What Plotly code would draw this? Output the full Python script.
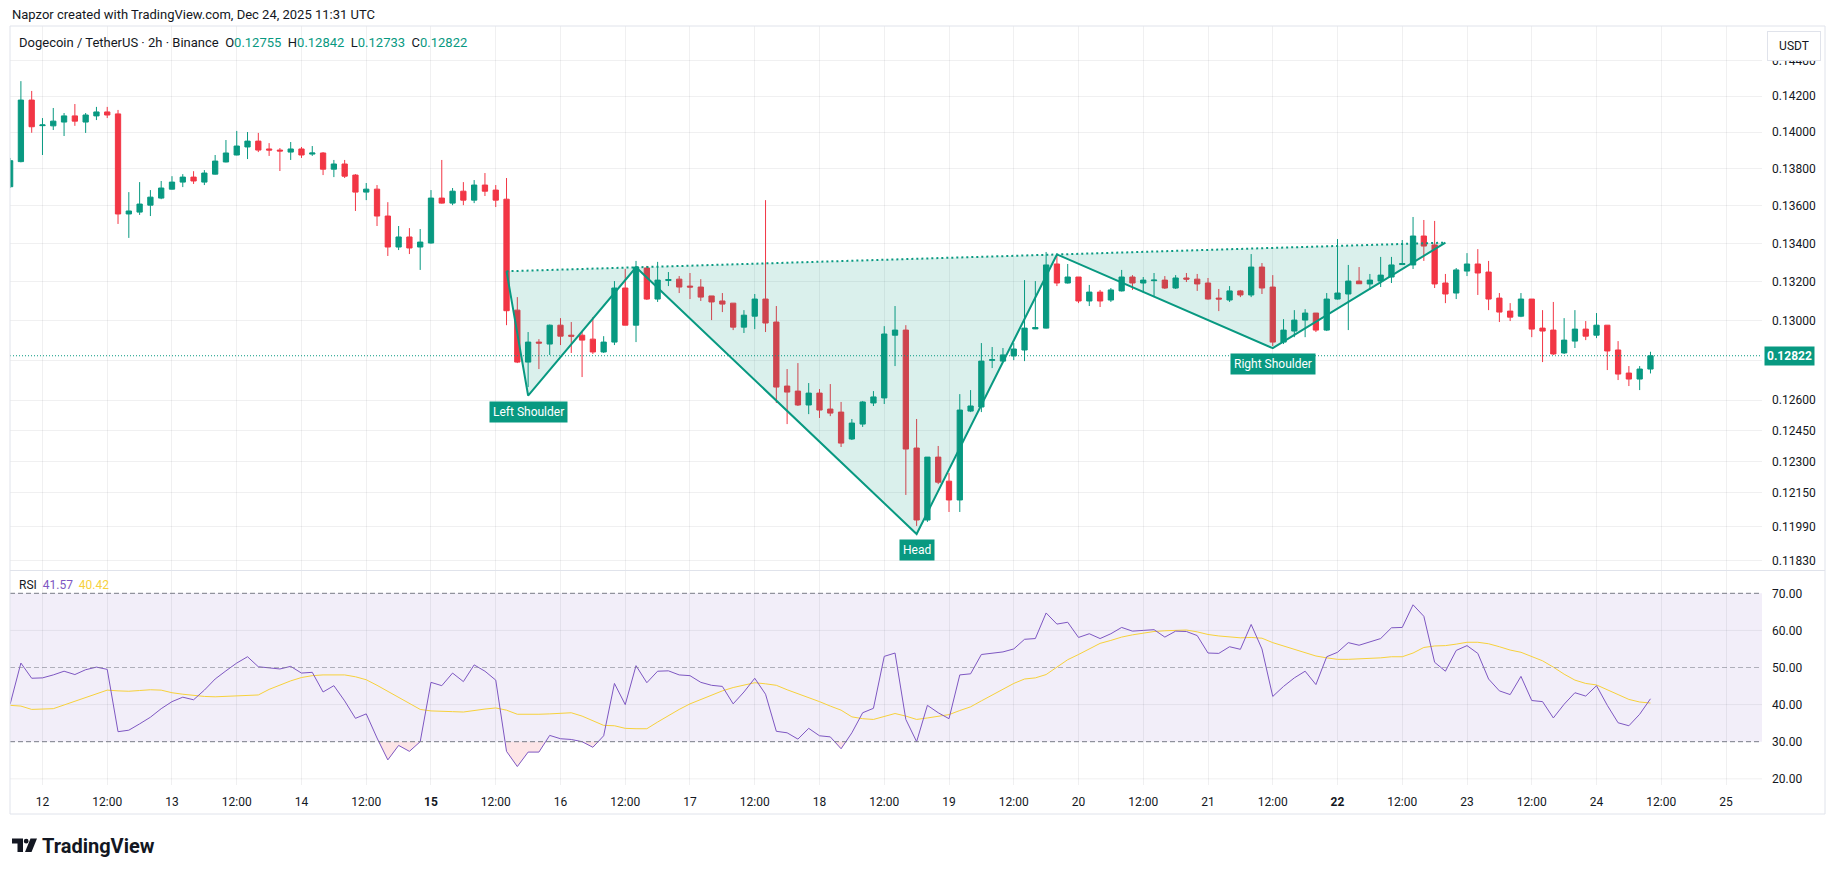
import numpy as np
import pandas as pd
import plotly.graph_objects as go

W, H = 1835, 875

# ---------------- data ----------------
bar_start = "2025-12-11 18:00"   # first 2h bar
opens = [0.13703, 0.13839, 0.14178, 0.14036, 0.14035, 0.14056, 0.14090, 0.14056, 0.14090, 0.14112,
         0.14101, 0.13557, 0.13567, 0.13604, 0.13642, 0.13690, 0.13728, 0.13755, 0.13728, 0.13771,
         0.13837, 0.13875, 0.13919, 0.13951, 0.13908, 0.13902, 0.13891, 0.13908, 0.13880, 0.13886,
         0.13798, 0.13826, 0.13766, 0.13674, 0.13690, 0.13546, 0.13382, 0.13435, 0.13382, 0.13403,
         0.13642, 0.13615, 0.13679, 0.13631, 0.13712, 0.13685, 0.13636, 0.13054, 0.12790, 0.12891,
         0.12881, 0.12977, 0.12926, 0.12926, 0.12906, 0.12841, 0.12891, 0.13168, 0.12977, 0.13272,
         0.13111, 0.13207, 0.13214, 0.13178, 0.13173, 0.13127, 0.13101, 0.13090, 0.12967, 0.13023,
         0.13111, 0.12993, 0.12670, 0.12645, 0.12576, 0.12635, 0.12556, 0.12541, 0.12409, 0.12482,
         0.12586, 0.12611, 0.12926, 0.12952, 0.12365, 0.12020, 0.12321, 0.12205, 0.12115, 0.12546,
         0.12566, 0.12799, 0.12795, 0.12821, 0.12851, 0.12958, 0.12962, 0.13293, 0.13194, 0.13225,
         0.13101, 0.13147, 0.13106, 0.13153, 0.13225, 0.13194, 0.13206, 0.13209, 0.13168, 0.13220,
         0.13214, 0.13194, 0.13116, 0.13106, 0.13153, 0.13132, 0.13277, 0.13173, 0.12891, 0.12947,
         0.13003, 0.13039, 0.12952, 0.13111, 0.13137, 0.13204, 0.13189, 0.13204, 0.13225, 0.13290,
         0.13288, 0.13440, 0.13393, 0.13194, 0.13142, 0.13256, 0.13293, 0.13251, 0.13116, 0.13049,
         0.13023, 0.13111, 0.12962, 0.12952, 0.12836, 0.12896, 0.12957, 0.12926, 0.12977, 0.12851,
         0.12735, 0.12705, 0.12755]
highs = [0.13859, 0.14284, 0.14229, 0.14078, 0.14134, 0.14106, 0.14156, 0.14106, 0.14140, 0.14140,
         0.14123, 0.13674, 0.13728, 0.13685, 0.13734, 0.13760, 0.13771, 0.13787, 0.13793, 0.13875,
         0.13957, 0.14007, 0.14001, 0.13996, 0.13940, 0.13913, 0.13946, 0.13919, 0.13924, 0.13891,
         0.13848, 0.13848, 0.13771, 0.13723, 0.13712, 0.13620, 0.13493, 0.13482, 0.13477, 0.13685,
         0.13848, 0.13696, 0.13728, 0.13739, 0.13777, 0.13712, 0.13750, 0.13121, 0.12942, 0.12906,
         0.12980, 0.13013, 0.12993, 0.12947, 0.13018, 0.12921, 0.13204, 0.13267, 0.13309, 0.13283,
         0.13304, 0.13251, 0.13230, 0.13246, 0.13214, 0.13127, 0.13142, 0.13090, 0.13054, 0.13137,
         0.13631, 0.13075, 0.12755, 0.12785, 0.12685, 0.12655, 0.12680, 0.12591, 0.12507, 0.12596,
         0.12645, 0.12972, 0.13075, 0.12977, 0.12507, 0.12321, 0.12375, 0.12244, 0.12630, 0.12650,
         0.12886, 0.12866, 0.12861, 0.12886, 0.13209, 0.13204, 0.13356, 0.13345, 0.13293, 0.13225,
         0.13184, 0.13158, 0.13168, 0.13262, 0.13235, 0.13225, 0.13246, 0.13230, 0.13235, 0.13246,
         0.13241, 0.13220, 0.13163, 0.13178, 0.13158, 0.13345, 0.13298, 0.13235, 0.13008, 0.13054,
         0.13059, 0.13039, 0.13142, 0.13424, 0.13288, 0.13277, 0.13241, 0.13330, 0.13330, 0.13419,
         0.13541, 0.13525, 0.13520, 0.13241, 0.13272, 0.13350, 0.13371, 0.13309, 0.13142, 0.13090,
         0.13142, 0.13111, 0.13054, 0.13096, 0.13013, 0.13054, 0.12998, 0.13039, 0.12977, 0.12896,
         0.12770, 0.12770, 0.12842]
lows = [0.13696, 0.13835, 0.13997, 0.13875, 0.14012, 0.13979, 0.14035, 0.13996, 0.14067, 0.14078,
        0.13504, 0.13430, 0.13552, 0.13546, 0.13636, 0.13688, 0.13701, 0.13718, 0.13712, 0.13769,
        0.13835, 0.13873, 0.13853, 0.13891, 0.13870, 0.13788, 0.13848, 0.13859, 0.13870, 0.13766,
        0.13755, 0.13750, 0.13573, 0.13631, 0.13493, 0.13335, 0.13366, 0.13345, 0.13262, 0.13400,
        0.13612, 0.13604, 0.13604, 0.13615, 0.13653, 0.13594, 0.12977, 0.12785, 0.12665, 0.12755,
        0.12826, 0.12876, 0.12836, 0.12715, 0.12831, 0.12836, 0.12876, 0.12977, 0.12891, 0.13106,
        0.13096, 0.13178, 0.13142, 0.13111, 0.13101, 0.13003, 0.13044, 0.12952, 0.12937, 0.12957,
        0.12942, 0.12586, 0.12482, 0.12571, 0.12531, 0.12512, 0.12521, 0.12370, 0.12404, 0.12468,
        0.12571, 0.12581, 0.12770, 0.12139, 0.11992, 0.12011, 0.12191, 0.12058, 0.12058, 0.12541,
        0.12541, 0.12760, 0.12793, 0.12800, 0.12795, 0.12957, 0.12960, 0.13178, 0.13191, 0.13090,
        0.13075, 0.13070, 0.13096, 0.13150, 0.13158, 0.13142, 0.13121, 0.13163, 0.13163, 0.13199,
        0.13153, 0.13108, 0.13049, 0.13096, 0.13121, 0.13121, 0.13137, 0.12871, 0.12881, 0.12916,
        0.12916, 0.12942, 0.12947, 0.13108, 0.12952, 0.13189, 0.13158, 0.13173, 0.13194, 0.13288,
        0.13267, 0.13309, 0.13168, 0.13090, 0.13111, 0.13230, 0.13132, 0.13054, 0.12993, 0.12998,
        0.13018, 0.12916, 0.12790, 0.12826, 0.12831, 0.12861, 0.12901, 0.12911, 0.12750, 0.12700,
        0.12670, 0.12650, 0.12733]
closes = [0.13844, 0.14178, 0.14030, 0.14040, 0.14061, 0.14090, 0.14061, 0.14095, 0.14112, 0.14095,
          0.13557, 0.13573, 0.13610, 0.13647, 0.13696, 0.13728, 0.13755, 0.13734, 0.13777, 0.13842,
          0.13886, 0.13924, 0.13951, 0.13902, 0.13902, 0.13897, 0.13908, 0.13875, 0.13886, 0.13798,
          0.13826, 0.13760, 0.13674, 0.13690, 0.13546, 0.13382, 0.13435, 0.13377, 0.13408, 0.13642,
          0.13615, 0.13679, 0.13631, 0.13712, 0.13679, 0.13631, 0.13051, 0.12790, 0.12891, 0.12886,
          0.12977, 0.12921, 0.12921, 0.12901, 0.12841, 0.12891, 0.13168, 0.12977, 0.13277, 0.13111,
          0.13209, 0.13212, 0.13173, 0.13173, 0.13121, 0.13096, 0.13085, 0.12967, 0.13028, 0.13111,
          0.12988, 0.12665, 0.12640, 0.12576, 0.12635, 0.12551, 0.12536, 0.12389, 0.12487, 0.12591,
          0.12616, 0.12932, 0.12952, 0.12360, 0.12020, 0.12321, 0.12200, 0.12115, 0.12551, 0.12571,
          0.12795, 0.12802, 0.12826, 0.12856, 0.12962, 0.12965, 0.13288, 0.13194, 0.13225, 0.13101,
          0.13147, 0.13101, 0.13158, 0.13225, 0.13194, 0.13209, 0.13209, 0.13168, 0.13220, 0.13214,
          0.13189, 0.13111, 0.13111, 0.13153, 0.13132, 0.13277, 0.13168, 0.12891, 0.12952, 0.13003,
          0.13039, 0.12952, 0.13111, 0.13142, 0.13204, 0.13190, 0.13209, 0.13235, 0.13288, 0.13295,
          0.13440, 0.13387, 0.13189, 0.13137, 0.13262, 0.13293, 0.13246, 0.13111, 0.13044, 0.13018,
          0.13111, 0.12957, 0.12947, 0.12831, 0.12901, 0.12957, 0.12921, 0.12977, 0.12846, 0.12730,
          0.12705, 0.12755, 0.12822]

rsi = [40.1, 51.2, 47.1, 47.2, 48.0, 49.0, 48.1, 49.4, 50.1, 49.5,
       32.7, 33.1, 34.8, 36.6, 38.9, 40.8, 42.0, 41.3, 43.9, 46.9,
       49.1, 51.2, 52.9, 50.2, 49.9, 49.6, 50.3, 48.5, 48.7, 43.4,
       45.1, 41.0, 36.3, 37.5, 31.0, 25.1, 29.0, 27.4, 30.0, 46.0,
       45.1, 48.5, 46.2, 50.7, 49.0, 46.6, 27.4, 23.3, 27.2, 27.2,
       31.7, 30.8, 30.6, 30.0, 28.5, 31.6, 45.7, 40.0, 50.5, 45.9,
       49.0, 49.1, 48.0, 47.8, 46.0, 45.2, 44.9, 40.2, 43.4, 47.1,
       42.8, 32.8, 32.4, 30.7, 33.6, 31.6, 31.3, 28.1, 32.4, 37.8,
       39.0, 53.0, 53.9, 36.0, 30.0, 39.8, 37.8, 36.2, 48.0, 48.3,
       53.5, 53.8, 54.2, 55.0, 57.6, 57.8, 64.7, 61.7, 62.2, 58.1,
       59.1, 57.8, 59.1, 60.8, 59.8, 60.0, 60.2, 58.2, 59.8, 59.7,
       58.6, 53.9, 53.8, 55.6, 54.9, 61.6, 55.0, 42.2, 44.9, 47.2,
       49.0, 45.4, 52.9, 54.1, 56.7, 56.0, 56.9, 57.8, 60.7, 60.8,
       66.9, 63.8, 51.4, 49.0, 54.6, 55.9, 53.8, 46.9, 43.7, 42.7,
       47.6, 41.1, 40.8, 36.4, 40.1, 43.2, 42.3, 45.1, 39.8, 35.1,
       34.3, 37.4, 41.57]
rsi_ma = [39.8, 39.6, 38.7, 38.7, 38.9, 39.9, 40.9, 41.8, 42.9, 43.9,
          43.7, 43.6, 43.8, 44.0, 43.9, 43.2, 42.8, 42.4, 42.2, 42.1,
          42.2, 42.3, 42.4, 42.6, 44.1, 45.3, 46.4, 47.3, 47.8, 48.0,
          48.0, 48.0, 47.5, 46.7, 45.2, 43.6, 42.0, 40.3, 38.7, 38.3,
          38.1, 38.1, 38.0, 38.5, 38.8, 39.1, 38.5, 37.4, 37.3, 37.4,
          37.5, 37.6, 37.8, 36.9, 35.7, 34.4, 34.3, 33.6, 33.5, 33.5,
          35.3, 37.1, 38.7, 40.2, 41.4, 42.5, 43.7, 44.6, 45.2, 45.9,
          45.6, 45.2, 44.0, 43.0, 41.9, 40.8, 39.6, 38.5, 36.7, 36.2,
          36.0, 36.7, 37.6, 36.9, 36.0, 36.4, 36.9, 37.3, 38.4, 39.4,
          41.0, 42.6, 44.2, 45.7, 46.9, 47.2, 48.1, 50.0, 52.1, 53.5,
          55.0, 56.5, 57.3, 58.2, 58.8, 59.3, 59.7, 59.9, 60.0, 60.1,
          59.6, 58.9, 58.5, 58.3, 58.0, 58.1, 57.9, 56.7, 55.8, 54.9,
          54.0, 53.1, 52.6, 52.2, 52.2, 52.3, 52.5, 52.6, 52.9, 52.9,
          53.9, 55.4, 55.8, 55.9, 56.3, 56.8, 56.8, 56.4, 55.6, 54.7,
          54.1, 53.0, 51.8, 50.1, 48.2, 46.6, 45.7, 45.3, 44.1, 42.7,
          41.4, 40.7, 40.42]

# head & shoulders drawing points: start, left shoulder, neck 1, head, neck 2, right shoulder, end
hs_times = ["2025-12-15 14:00", "2025-12-15 18:00", "2025-12-16 14:00", "2025-12-18 18:00",
            "2025-12-19 20:00", "2025-12-21 12:00", "2025-12-22 20:00"]
hs_prices = [0.13255, 0.12623, 0.13276, 0.11954, 0.13343, 0.12860, 0.13405]
hs_labels = {1: "Left Shoulder", 3: "Head", 5: "Right Shoulder"}

last_price = 0.12822
price_ticks = [0.11830, 0.11990, 0.12150, 0.12300, 0.12450, 0.12600, 0.12800,
               0.13000, 0.13200, 0.13400, 0.13600, 0.13800, 0.14000, 0.14200, 0.14400]
price_ticktext = ["0.11830", "0.11990", "0.12150", "0.12300", "0.12450", "0.12600", "",
                  "0.13000", "0.13200", "0.13400", "0.13600", "0.13800", "0.14000", "0.14200", "0.14400"]
rsi_ticks = [20, 30, 40, 50, 60, 70]
rsi_ticktext = ["20.00", "30.00", "40.00", "50.00", "60.00", "70.00"]
time_ticktext = ["12", "12:00", "13", "12:00", "14", "12:00", "<b>15</b>", "12:00", "16", "12:00",
                 "17", "12:00", "18", "12:00", "19", "12:00", "20", "12:00", "21", "12:00",
                 "<b>22</b>", "12:00", "23", "12:00", "24", "12:00", "25"]

# ---------------- styles ----------------
UP, DOWN = "#089981", "#F23645"
TXT = "#131722"
GRID = "rgba(42,46,57,0.07)"
BORDER = "#E0E3EB"
FONT = "Roboto, 'Liberation Sans', sans-serif"
RSI_COL, MA_COL = "#7E57C2", "#F7D13B"

def px(x):
    return x / W

def py(y):
    return 1 - y / H

times = pd.date_range(bar_start, periods=len(opens), freq="2h")
base = pd.Timestamp("2025-12-12 00:00")
x_range = [base + pd.Timedelta(hours=-6.02), base + pd.Timedelta(hours=318.67)]
time_ticks = [base + pd.Timedelta(hours=12 * i) for i in range(len(time_ticktext))]

fig = go.Figure()

# candles
fig.add_trace(go.Candlestick(
    x=times, open=opens, high=highs, low=lows, close=closes,
    increasing=dict(line=dict(color=UP, width=1), fillcolor=UP),
    decreasing=dict(line=dict(color=DOWN, width=1), fillcolor=DOWN),
    whiskerwidth=0, showlegend=False, hoverinfo="skip", xaxis="x", yaxis="y"))

# head & shoulders fill + zigzag + neckline
poly_x = hs_times + [hs_times[0]]
poly_y = hs_prices + [hs_prices[0]]
fig.add_trace(go.Scatter(x=poly_x, y=poly_y, mode="lines", fill="toself",
                         fillcolor="rgba(8,153,129,0.15)", line=dict(width=0),
                         showlegend=False, hoverinfo="skip", xaxis="x", yaxis="y"))
fig.add_trace(go.Scatter(x=[hs_times[0], hs_times[-1]], y=[hs_prices[0], hs_prices[-1]],
                         mode="lines", line=dict(color=UP, width=2, dash="2px,3px"),
                         showlegend=False, hoverinfo="skip", xaxis="x", yaxis="y"))
fig.add_trace(go.Scatter(x=hs_times, y=hs_prices, mode="lines", line=dict(color=UP, width=2),
                         showlegend=False, hoverinfo="skip", xaxis="x", yaxis="y"))

# RSI oversold fill (below 30)
t_ns = times.asi8.astype(float)
r = np.array(rsi, dtype=float)
fx, fy = [], []
for i in range(len(r)):
    if i > 0 and (r[i - 1] - 30) * (r[i] - 30) < 0:
        f = (30 - r[i - 1]) / (r[i] - r[i - 1])
        fx.append(t_ns[i - 1] + f * (t_ns[i] - t_ns[i - 1]))
        fy.append(30.0)
    fx.append(t_ns[i])
    fy.append(min(r[i], 30.0))
fx_dt = pd.to_datetime(np.array(fx).astype("int64"), unit="ns")
fig.add_trace(go.Scatter(x=fx_dt, y=[30.0] * len(fx), mode="lines", line=dict(width=0),
                         showlegend=False, hoverinfo="skip", xaxis="x2", yaxis="y2"))
fig.add_trace(go.Scatter(x=fx_dt, y=fy, mode="lines", line=dict(width=0), fill="tonexty",
                         fillcolor="rgba(242,54,69,0.13)",
                         showlegend=False, hoverinfo="skip", xaxis="x2", yaxis="y2"))

# RSI + MA lines
fig.add_trace(go.Scatter(x=times, y=rsi_ma, mode="lines", line=dict(color=MA_COL, width=1),
                         showlegend=False, hoverinfo="skip", xaxis="x2", yaxis="y2"))
fig.add_trace(go.Scatter(x=times, y=rsi, mode="lines", line=dict(color=RSI_COL, width=1),
                         showlegend=False, hoverinfo="skip", xaxis="x2", yaxis="y2"))

x_dom = [px(10), px(1762)]
main_dom = [py(570), py(26)]
rsi_dom = [py(785), py(571)]

log_lo, log_hi = np.log10(0.117860), np.log10(0.145970)

shapes = []
# RSI band
shapes.append(dict(type="rect", xref="x2 domain", yref="y2", x0=0, x1=1, y0=30, y1=70,
                   fillcolor="rgba(126,87,194,0.10)", line=dict(width=0), layer="below"))
# RSI grid (20, 40, 60)
for v in (20, 40, 60):
    shapes.append(dict(type="line", xref="x2 domain", yref="y2", x0=0, x1=1, y0=v, y1=v,
                       line=dict(color=GRID, width=1), layer="below"))
# RSI dashed levels
for v, c in ((70, "#787B86"), (50, "rgba(120,123,134,0.55)"), (30, "#787B86")):
    shapes.append(dict(type="line", xref="x2 domain", yref="y2", x0=0, x1=1, y0=v, y1=v,
                       line=dict(color=c, width=1, dash="5px,3px")))
# last price line
shapes.append(dict(type="line", xref="x domain", yref="y", x0=0, x1=1, y0=last_price, y1=last_price,
                   line=dict(color=UP, width=1, dash="1px,2px")))
# borders / separators
shapes.append(dict(type="line", xref="paper", yref="paper", x0=px(10), x1=px(1825), y0=py(26), y1=py(26),
                   line=dict(color=BORDER, width=1)))
shapes.append(dict(type="line", xref="paper", yref="paper", x0=px(10), x1=px(1825), y0=py(570.5), y1=py(570.5),
                   line=dict(color=BORDER, width=1)))
shapes.append(dict(type="line", xref="paper", yref="paper", x0=px(10), x1=px(1825), y0=py(814), y1=py(814),
                   line=dict(color=BORDER, width=1)))
shapes.append(dict(type="line", xref="paper", yref="paper", x0=px(10), x1=px(10), y0=py(26), y1=py(814),
                   line=dict(color=BORDER, width=1)))
shapes.append(dict(type="line", xref="paper", yref="paper", x0=px(1825), x1=px(1825), y0=py(26), y1=py(814),
                   line=dict(color=BORDER, width=1)))
# TradingView logo glyph
shapes.append(dict(type="path", xref="paper", yref="paper",
                   path=f"M {px(12)} {py(838.5)} L {px(23)} {py(838.5)} L {px(23)} {py(852)} L {px(17.5)} {py(852)} "
                        f"L {px(17.5)} {py(843.5)} L {px(12)} {py(843.5)} Z",
                   fillcolor=TXT, line=dict(width=0)))
shapes.append(dict(type="circle", xref="paper", yref="paper", x0=px(23.8), x1=px(28.6), y0=py(843.6), y1=py(838.8),
                   fillcolor=TXT, line=dict(width=0)))
shapes.append(dict(type="path", xref="paper", yref="paper",
                   path=f"M {px(30.5)} {py(838.5)} L {px(37)} {py(838.5)} L {px(31.5)} {py(852)} L {px(25)} {py(852)} Z",
                   fillcolor=TXT, line=dict(width=0)))

ann = []
ann.append(dict(xref="paper", yref="paper", x=px(10), y=py(15), xanchor="left", yanchor="middle",
                text="Napzor created with TradingView.com, Dec 24, 2025 11:31 UTC", showarrow=False,
                font=dict(size=13, color=TXT, family=FONT)))
ohlc = (f"Dogecoin / TetherUS · 2h · Binance&nbsp;&nbsp;"
        f"O<span style='color:{UP}'>{opens[-1]:.5f}</span>&nbsp;&nbsp;"
        f"H<span style='color:{UP}'>{highs[-1]:.5f}</span>&nbsp;&nbsp;"
        f"L<span style='color:{UP}'>{lows[-1]:.5f}</span>&nbsp;&nbsp;"
        f"C<span style='color:{UP}'>{closes[-1]:.5f}</span>")
ann.append(dict(xref="paper", yref="paper", x=px(17), y=py(42), xanchor="left", yanchor="middle",
                text=ohlc, showarrow=False, font=dict(size=13, color=TXT, family=FONT)))
ann.append(dict(xref="paper", yref="paper", x=px(17), y=py(585), xanchor="left", yanchor="middle",
                text=f"RSI&nbsp;&nbsp;<span style='color:{RSI_COL}'>{rsi[-1]:.2f}</span>&nbsp;&nbsp;"
                     f"<span style='color:{MA_COL}'>{rsi_ma[-1]:.2f}</span>",
                showarrow=False, font=dict(size=12, color=TXT, family=FONT)))
# USDT currency button (annotation so it covers the top of the 0.14400 label, as in the reference)
ann.append(dict(xref="paper", yref="paper", x=px(1794), y=py(46), xanchor="center", yanchor="middle",
                text="USDT", showarrow=False, width=50, height=26, bgcolor="white",
                bordercolor=BORDER, borderwidth=1, borderpad=1,
                font=dict(size=12, color=TXT, family=FONT)))
ann.append(dict(xref="paper", yref="y", x=px(1764), y=np.log10(last_price), xanchor="left", yanchor="middle",
                text=f"<b>{last_price:.5f}</b>", showarrow=False, bgcolor=UP, borderpad=2,
                font=dict(size=12, color="white", family=FONT)))
for i, label in hs_labels.items():
    ann.append(dict(xref="x", yref="y", x=hs_times[i], y=np.log10(hs_prices[i]), xanchor="center",
                    yanchor="top", yshift=-5, text=label, showarrow=False, bgcolor=UP, borderpad=3,
                    font=dict(size=12, color="white", family=FONT)))
ann.append(dict(xref="paper", yref="paper", x=px(40), y=py(846), xanchor="left", yanchor="middle",
                text="<b>TradingView</b>", showarrow=False,
                font=dict(size=20, color=TXT, family=FONT)))

axis_common = dict(showline=False, zeroline=False, fixedrange=True)
fig.update_layout(
    width=W, height=H, margin=dict(l=0, r=0, t=0, b=0),
    paper_bgcolor="white", plot_bgcolor="white", showlegend=False,
    font=dict(family=FONT, color=TXT, size=12),
    xaxis=dict(domain=x_dom, anchor="y", type="date", range=x_range, tickvals=time_ticks,
               showticklabels=False, showgrid=True, gridcolor=GRID, ticks="",
               rangeslider=dict(visible=False), **axis_common),
    yaxis=dict(domain=main_dom, anchor="x", type="log", range=[log_lo, log_hi], side="right",
               tickvals=price_ticks, ticktext=price_ticktext, showgrid=True, gridcolor=GRID,
               ticks="", ticklabelstandoff=9, tickfont=dict(size=12, color=TXT), **axis_common),
    xaxis2=dict(domain=x_dom, anchor="y2", type="date", range=x_range, matches="x",
                tickvals=time_ticks, ticktext=time_ticktext, showgrid=True, gridcolor=GRID,
                ticks="", ticklabelstandoff=8, tickfont=dict(size=12, color=TXT), **axis_common),
    yaxis2=dict(domain=rsi_dom, anchor="x2", range=[18.33, 76.01], side="right",
                tickvals=rsi_ticks, ticktext=rsi_ticktext, showgrid=False,
                ticks="", ticklabelstandoff=9, tickfont=dict(size=12, color=TXT), **axis_common),
    shapes=shapes, annotations=ann,
)

fig.write_html("out.html")
